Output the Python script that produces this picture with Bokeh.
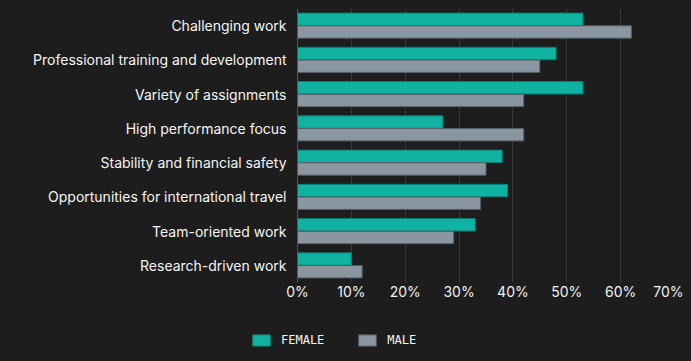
from bokeh.plotting import figure
from bokeh.models import (FactorRange, Range1d, SingleIntervalTicker, PrintfTickFormatter,
                          Legend, LegendItem, ColumnDataSource)
from bokeh.transform import dodge
from bokeh.embed import file_html
from bokeh.resources import INLINE
from bokeh.core.templates import get_env

categories = ["Challenging work", "Professional training and development", "Variety of assignments",
              "High performance focus", "Stability and financial safety",
              "Opportunities for international travel", "Team-oriented work", "Research-driven work"]
female = [53, 48, 53, 27, 38, 39, 33, 10]
male = [62, 45, 42, 42, 35, 34, 29, 12]
series_names = ["FEMALE", "MALE"]

BG = "#1d1d1d"
F_FILL, F_LINE = "#10b2a2", "#0c8075"
M_FILL, M_LINE = "#8a96a0", "#565e66"
src = ColumnDataSource(dict(cat=categories, female=female, male=male))

p = figure(width=675, height=300, output_backend="svg", toolbar_location=None,
           y_range=FactorRange(factors=list(reversed(categories)), range_padding=0),
           x_range=Range1d(0, 70))
p.background_fill_color = BG
p.border_fill_color = BG
p.outline_line_color = None
p.min_border_left = 289
p.min_border_right = 9
p.min_border_top = 0
p.min_border_bottom = 26

p.hbar(y=dodge("cat", 0.185, range=p.y_range), right="female", left=0, height=0.36,
       source=src, fill_color=F_FILL, line_color=F_LINE, line_width=1)
p.hbar(y=dodge("cat", -0.185, range=p.y_range), right="male", left=0, height=0.36,
       source=src, fill_color=M_FILL, line_color=M_LINE, line_width=1)

p.xaxis.ticker = SingleIntervalTicker(interval=10)
p.xaxis.formatter = PrintfTickFormatter(format="%d%%")
p.xaxis.axis_line_color = None
p.xaxis.major_tick_line_color = None
p.xaxis.minor_tick_line_color = None
p.xaxis.major_tick_out = 0
p.xaxis.major_tick_in = 0
p.xaxis.minor_tick_out = 0
p.xaxis.major_label_text_color = "#f2f2f2"
p.xaxis.major_label_text_font = "Inter"
p.xaxis.major_label_text_font_size = "14px"
p.xaxis.major_label_standoff = 0

p.yaxis.axis_line_color = "#555555"
p.yaxis.major_tick_line_color = None
p.yaxis.minor_tick_line_color = None
p.yaxis.major_tick_out = 0
p.yaxis.major_tick_in = 0
p.yaxis.minor_tick_out = 0
p.yaxis.major_label_text_color = "#f5f5f5"
p.yaxis.major_label_text_font = "Inter"
p.yaxis.major_label_text_font_size = "14px"
p.yaxis.major_label_standoff = 11

p.ygrid.grid_line_color = None
p.xgrid.grid_line_color = "#383838"
p.xgrid.grid_line_width = 1

# separate legend figure (independent root, so its frame is not aligned to the chart)
lg = figure(width=675, height=45, output_backend="svg", toolbar_location=None,
            x_range=Range1d(0, 70), y_range=FactorRange(factors=categories))
lg.background_fill_color = BG
lg.border_fill_color = BG
lg.outline_line_color = None
lg.axis.visible = False
lg.grid.visible = False
lg.min_border = 0
df = lg.hbar(y="cat", right="female", left=0, height=0.5, source=src,
             fill_color=F_FILL, line_color=F_LINE, visible=False)
dm = lg.hbar(y="cat", right="male", left=0, height=0.5, source=src,
             fill_color=M_FILL, line_color=M_LINE, visible=False)

legend = Legend(items=[LegendItem(label=series_names[0], renderers=[df]),
                       LegendItem(label=series_names[1], renderers=[dm])],
                orientation="horizontal", location=(242, 6))
legend.background_fill_alpha = 0
legend.border_line_color = None
legend.padding = 0
legend.margin = 0
legend.spacing = 32
legend.label_standoff = 9
legend.glyph_width = 22
legend.glyph_height = 14
legend.inactive_fill_alpha = 0
legend.label_text_color = "#f5f5f5"
legend.label_text_font = "DejaVu Sans Mono"
legend.label_text_font_size = "12px"
lg.add_layout(legend, "center")

template = get_env().from_string("""{% extends "file.html" %}
{% block postamble %}{{ super() }}<style>body{background:#1d1d1d;margin:8px;}</style>{% endblock %}""")

open("out.html", "w").write(file_html([p, lg], INLINE, template=template))
